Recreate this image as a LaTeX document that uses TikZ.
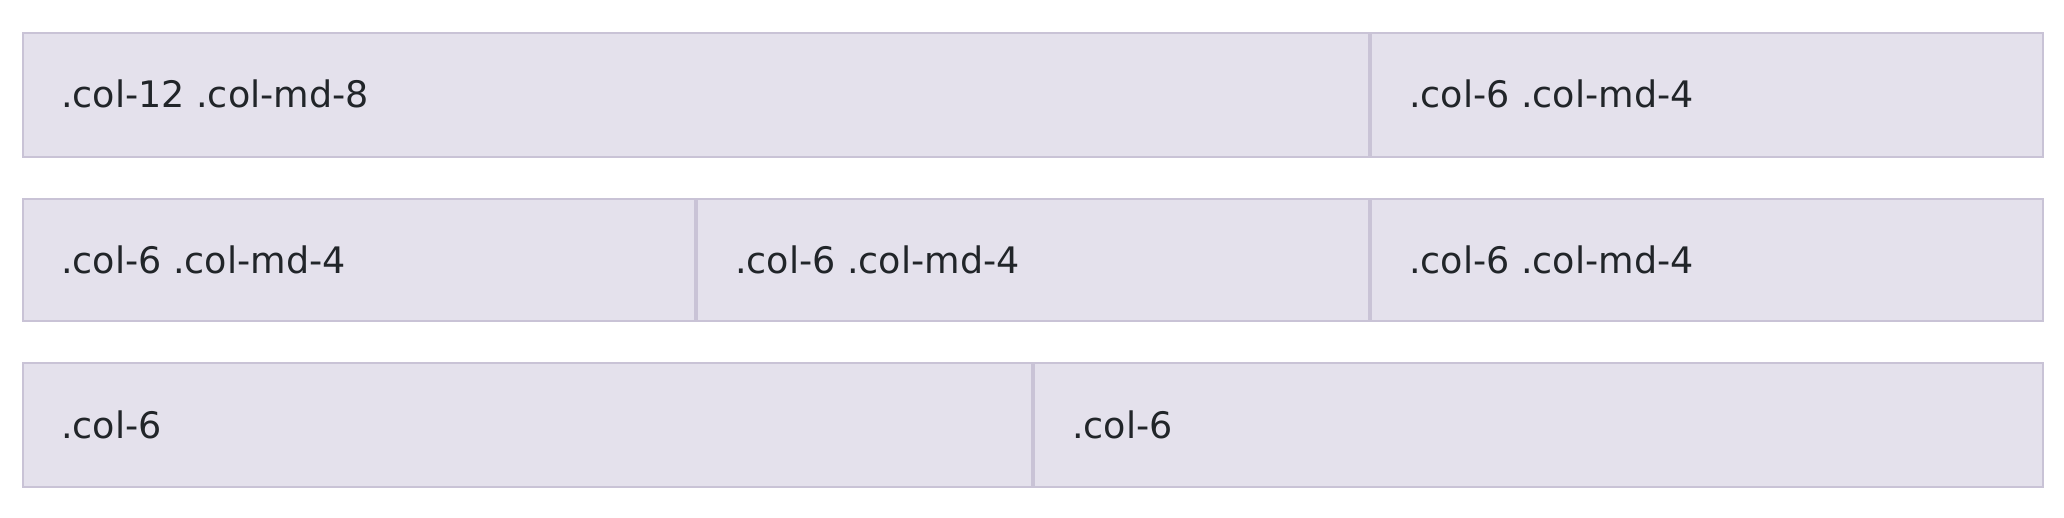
\documentclass[tikz,border=0pt]{standalone}
\usepackage{fontspec}
\setmainfont{DejaVu Sans}
\definecolor{cellfill}{HTML}{E4E1EC}
\definecolor{cellline}{HTML}{C9C3D6}
\definecolor{celltext}{HTML}{212529}
\begin{document}
\begin{tikzpicture}[x=1pt,y=-1pt,
  cellbox/.style={rectangle, fill=cellfill, draw=cellline, line width=2pt, anchor=north west, inner sep=0pt, outer sep=0pt},
  celllabel/.style={anchor=base west, inner sep=0pt, outer sep=0pt, text=celltext, font=\fontsize{36.5}{44}\selectfont}]
\useasboundingbox (0,0) rectangle (2064,518);
\fill[white] (0,0) rectangle (2064,518);
% row 1
\node[cellbox, minimum width=1346pt, minimum height=124pt] (c11) at (23,33) {};
\node[cellbox, minimum width=672pt, minimum height=124pt] (c12) at (1371,33) {};
\node[celllabel] (t11) at (61,107.7) {.col-12 .col-md-8};
\node[celllabel] (t12) at (1409,107.7) {.col-6 .col-md-4};
% row 2
\node[cellbox, minimum width=672pt, minimum height=122pt] (c21) at (23,199) {};
\node[cellbox, minimum width=672pt, minimum height=122pt] (c22) at (697,199) {};
\node[cellbox, minimum width=672pt, minimum height=122pt] (c23) at (1371,199) {};
\node[celllabel] (t21) at (61,274) {.col-6 .col-md-4};
\node[celllabel] (t22) at (735,274) {.col-6 .col-md-4};
\node[celllabel] (t23) at (1409,274) {.col-6 .col-md-4};
% row 3
\node[cellbox, minimum width=1009pt, minimum height=124pt] (c31) at (23,363) {};
\node[cellbox, minimum width=1009pt, minimum height=124pt] (c32) at (1034,363) {};
\node[celllabel] (t31) at (61,438) {.col-6};
\node[celllabel] (t32) at (1072,438) {.col-6};
\end{tikzpicture}
\end{document}
